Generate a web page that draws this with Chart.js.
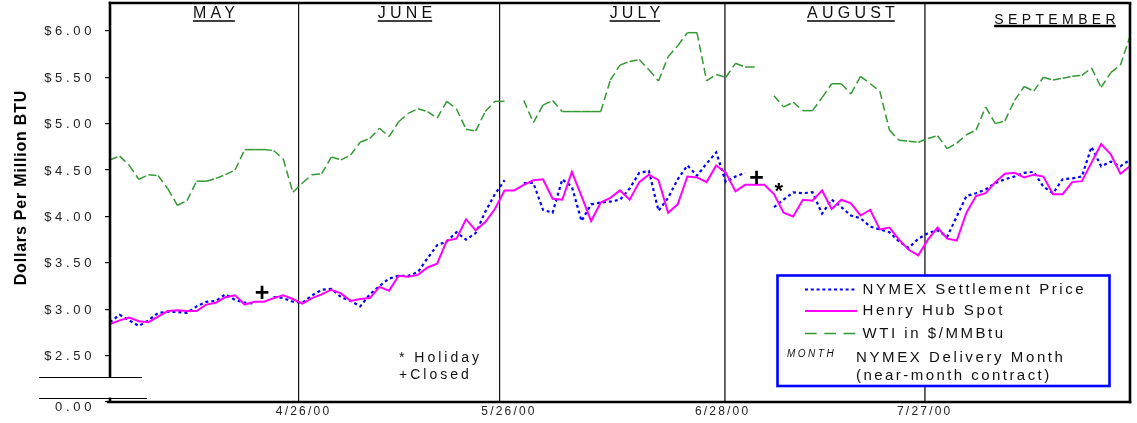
<!DOCTYPE html>
<html>
<head>
<meta charset="utf-8">
<script src="https://cdn.jsdelivr.net/npm/chart.js@4/dist/chart.umd.min.js"></script>
<style>
  html, body { margin: 0; padding: 0; background: #fff; }
  #wrap { position: relative; width: 1137px; height: 423px; }
  canvas { display: block; }
</style>
</head>
<body>
<div id="wrap"><canvas id="c" width="1137" height="423"></canvas></div>
<script>
// Weekday sequence 3/30/00 - 8/25/00 (index 0 .. 106)
const dayIndex = Array.from({ length: 107 }, (_, i) => i);

// Henry Hub spot price, $/MMBtu
const henryHubSpot = [
  2.84, 2.88, 2.91, 2.87, 2.86, 2.92, 2.98, 2.99, 2.98, 2.98,
  3.05, 3.07, 3.13, 3.15, 3.05, 3.08, 3.08, 3.12, 3.15, 3.11,
  3.06, 3.12, 3.16, 3.21, 3.17, 3.09, 3.11, 3.12, 3.24, 3.20,
  3.36, 3.35, 3.37, 3.45, 3.49, 3.74, 3.76, 3.97, 3.85, 3.94,
  4.08, 4.28, 4.28, 4.34, 4.39, 4.40, 4.19, 4.18, 4.48, 4.22,
  3.95, 4.15, 4.20, 4.28, 4.18, 4.37, 4.45, 4.39, 4.04, 4.13,
  4.43, 4.42, 4.37, 4.55, 4.47, 4.27, 4.34, 4.34, 4.34, 4.24,
  4.04, 4.00, 4.18, 4.17, 4.28, 4.08, 4.18, 4.14, 4.01, 4.07,
  3.86, 3.88, 3.75, 3.64, 3.58, 3.75, 3.88, 3.76, 3.74, 4.04,
  4.22, 4.25, 4.37, 4.46, 4.47, 4.42, 4.45, 4.43, 4.24, 4.24,
  4.37, 4.38, 4.58, 4.78, 4.67, 4.46, 4.54
];

// NYMEX near-month settlement price, $/MMBtu (null = exchange closed)
const nymexSettlement = [
  2.86, 2.94, 2.88, 2.82, 2.88, 2.96, 2.97, 2.97, 2.96, 3.03,
  3.08, 3.09, 3.16, 3.10, 3.07, 3.06, null, 3.13, 3.12, 3.08,
  3.07, 3.15, 3.21, 3.22, 3.13, 3.09, 3.03, 3.16, 3.25, 3.33,
  3.36, 3.36, 3.40, 3.55, 3.69, 3.73, 3.83, 3.75, 3.82, 4.05,
  4.24, 4.39, null, 4.36, 4.36, 4.07, 4.04, 4.40, 4.32, 3.95,
  4.13, 4.15, 4.16, 4.18, 4.30, 4.47, 4.49, 4.06, 4.20, 4.40,
  4.55, 4.44, 4.57, 4.69, 4.37, 4.43, 4.47, null, null, 4.10,
  4.18, 4.26, 4.25, 4.26, 4.03, 4.18, 4.10, 4.01, 3.98, 3.89,
  3.86, 3.83, 3.73, 3.66, 3.76, 3.82, 3.85, 3.78, 4.00, 4.22,
  4.25, 4.29, 4.36, 4.40, 4.43, 4.47, 4.48, 4.32, 4.25, 4.40,
  4.41, 4.43, 4.75, 4.54, 4.59, 4.54, 4.61
];

// West Texas Intermediate crude converted to $/MMBtu (null = holiday)
const wtiPerMMBtu = [
  4.61, 4.65, 4.55, 4.40, 4.45, 4.44, 4.30, 4.12, 4.17, 4.38,
  4.38, 4.41, 4.45, 4.50, 4.72, 4.72, 4.72, 4.71, 4.62, 4.26,
  4.36, 4.45, 4.46, 4.64, 4.61, 4.66, 4.80, 4.84, 4.95, 4.86,
  5.02, 5.11, 5.16, 5.13, 5.06, 5.24, 5.16, 4.94, 4.92, 5.13,
  5.24, 5.24, null, 5.25, 5.01, 5.20, 5.25, 5.13, 5.13, 5.13,
  5.13, 5.13, 5.47, 5.63, 5.67, 5.69, 5.58, 5.46, 5.72, 5.84,
  5.98, 5.98, 5.46, 5.53, 5.50, 5.65, 5.61, 5.61, null, 5.30,
  5.18, 5.23, 5.14, 5.14, 5.28, 5.43, 5.43, 5.32, 5.51, 5.43,
  5.35, 4.93, 4.82, 4.81, 4.80, 4.84, 4.87, 4.73, 4.79, 4.88,
  4.93, 5.18, 5.00, 5.03, 5.25, 5.40, 5.35, 5.50, 5.47, 5.49,
  5.51, 5.52, 5.60, 5.39, 5.55, 5.63, 5.94
];

// Contract expiration dates: divider position and date label position on the day axis
const expiryLabels = ['4/26/00', '5/26/00', '6/28/00', '7/27/00'];
const expiryAt = [19.55, 40.5, 63.85, 84.65];
const expiryLabelAt = [20.0, 41.35, 63.55, 84.55];

// Delivery-month headings
const deliveryMonths = ['MAY', 'JUNE', 'JULY', 'AUGUST', 'SEPTEMBER'];

// Price axis ticks; the lowest tick sits below the axis break and reads $0.00
const priceTicks = [2.0, 2.5, 3.0, 3.5, 4.0, 4.5, 5.0, 5.5, 6.0];
const priceTickLabels = ['0.00', '$2.50', '$3.00', '$3.50', '$4.00', '$4.50', '$5.00', '$5.50', '$6.00'];

// Event markers: [symbol, day, price]
const eventMarks = [['+', 15.8, 3.17], ['+', 67.2, 4.41], ['*', 69.5, 4.33]];

const FONT = '"Liberation Sans", Arial, Helvetica, sans-serif';

// ---- layout constants ----
const monthHeadAt = [10.8, 30.65, 54.55, 77.0, 98.2];
const monthHeadY = [14, 14, 14, 14, 20];
const breakHi = 2.272, breakLo = 2.048;

function spacedText(ctx, str, x, y, font, spacing, align, color) {
  ctx.save();
  ctx.font = font;
  ctx.fillStyle = color || '#000';
  ctx.textBaseline = 'middle';
  ctx.textAlign = 'left';
  ctx.letterSpacing = '0px';
  const w = ctx.measureText(str).width + spacing * (str.length - 1);
  let x0 = x;
  if (align === 'center') x0 = x - w / 2;
  else if (align === 'right') x0 = x - w;
  ctx.letterSpacing = spacing + 'px';
  ctx.fillText(str, x0, y);
  ctx.restore();
  return { x0, w };
}

function seg(ctx, x1, y1, x2, y2) {
  ctx.beginPath(); ctx.moveTo(x1, y1); ctx.lineTo(x2, y2); ctx.stroke();
}

const chartDecor = {
  id: 'chartDecor',
  afterDraw(chart) {
    const ctx = chart.ctx;
    const { left, right, top, bottom } = chart.chartArea;
    const xs = chart.scales.x, ys = chart.scales.y;
    const ds = chart.data.datasets;

    // plot frame with the broken price axis
    ctx.save();
    ctx.strokeStyle = '#000';
    ctx.lineWidth = 2.6;
    const yb1 = ys.getPixelForValue(breakHi), yb2 = ys.getPixelForValue(breakLo);
    seg(ctx, left - 1.3, top, right + 1.3, top);
    seg(ctx, right, top, right, bottom + 1.3);
    seg(ctx, left - 3, bottom, right + 1.3, bottom);
    seg(ctx, left, top - 1.3, left, yb1 + 1);
    seg(ctx, left, yb2, left, bottom);
    ctx.lineWidth = 1.2;
    seg(ctx, 39, Math.round(yb1) + 0.5, 142, Math.round(yb1) + 0.5);
    seg(ctx, 39, Math.round(yb2) + 0.5, 147, Math.round(yb2) + 0.5);
    ctx.restore();

    // price tick labels (the one under the break sits a little lower)
    priceTicks.forEach((v, i) => {
      const dy = i === 0 ? 5.5 : 1;
      spacedText(ctx, priceTickLabels[i], 91.5, ys.getPixelForValue(v) + dy, '13px ' + FONT, 3.7, 'right', '#222');
    });

    // expiration date labels
    expiryAt.forEach((v, i) => {
      spacedText(ctx, expiryLabels[i], xs.getPixelForValue(expiryLabelAt[i]), 412, '12px ' + FONT, 2.2, 'center', '#222');
    });

    // axis title
    ctx.save();
    ctx.translate(21.5, 188);
    ctx.rotate(-Math.PI / 2);
    spacedText(ctx, 'Dollars Per Million BTU', 0, 0, 'bold 16px ' + FONT, 0.8, 'center', '#000');
    ctx.restore();

    // delivery month headings, underlined
    deliveryMonths.forEach((m, i) => {
      const last = i === deliveryMonths.length - 1;
      const size = last ? 14 : 16;
      const sp = last ? 4.4 : 4.2;
      const cx = xs.getPixelForValue(monthHeadAt[i]);
      const r = spacedText(ctx, m, cx, monthHeadY[i], size + 'px ' + FONT, sp, 'center', '#111');
      ctx.save();
      ctx.strokeStyle = '#000';
      ctx.lineWidth = last ? 2.4 : 1.6;
      seg(ctx, r.x0, monthHeadY[i] + (last ? 6 : 7), r.x0 + r.w, monthHeadY[i] + (last ? 6 : 7));
      ctx.restore();
    });

    // event markers
    eventMarks.forEach(([s, d, p]) => {
      const font = s === '+' ? 'bold 25px ' + FONT : 'bold 22px ' + FONT;
      const dy = s === '*' ? 6 : 1;
      spacedText(ctx, s, xs.getPixelForValue(d), ys.getPixelForValue(p) + dy, font, 0, 'center', '#000');
    });

    // notes
    spacedText(ctx, '* Holiday', 399, 358, '14px ' + FONT, 3, 'left', '#111');
    spacedText(ctx, '+Closed', 399, 375, '14px ' + FONT, 3, 'left', '#111');

    // legend box
    ctx.save();
    ctx.fillStyle = '#fff';
    ctx.fillRect(777, 275, 333, 111);
    ctx.strokeStyle = '#0000ff';
    ctx.lineWidth = 2.6;
    ctx.strokeRect(777.5, 275.5, 332, 110.5);
    ctx.restore();

    const sample = (d, y, dash) => {
      ctx.save();
      ctx.strokeStyle = d.borderColor;
      ctx.lineWidth = d.borderWidth;
      ctx.setLineDash(dash);
      seg(ctx, 805, y, 857, y);
      ctx.restore();
    };
    const byLabel = l => ds.find(d => d.label === l);
    const lf = '15px ' + FONT;
    sample(byLabel('NYMEX Settlement Price'), 289.5, [3, 2.8]);
    spacedText(ctx, 'NYMEX Settlement Price', 862.5, 289.5, lf, 2.55, 'left', '#111');
    sample(byLabel('Henry Hub Spot'), 311, []);
    spacedText(ctx, 'Henry Hub Spot', 862.5, 311, lf, 2.55, 'left', '#111');
    sample(byLabel('WTI in $/MMBtu'), 333.5, [11.7, 7.6]);
    spacedText(ctx, 'WTI in $/MMBtu', 862.5, 334, lf, 2.55, 'left', '#111');
    spacedText(ctx, 'MONTH', 787, 354, 'italic 10px ' + FONT, 2.5, 'left', '#111');
    spacedText(ctx, 'NYMEX Delivery Month', 856, 357.5, lf, 2.6, 'left', '#111');
    spacedText(ctx, '(near-month contract)', 856, 375.5, lf, 2.45, 'left', '#111');
  }
};

new Chart(document.getElementById('c'), {
  type: 'line',
  data: {
    labels: dayIndex,
    datasets: [
      {
        label: 'Henry Hub Spot', data: henryHubSpot,
        borderColor: '#ff00ff', borderWidth: 2, order: 0
      },
      {
        label: 'NYMEX Settlement Price', data: nymexSettlement,
        borderColor: '#0000ff', borderWidth: 2.2, borderDash: [3, 3], order: 1
      },
      {
        label: 'WTI in $/MMBtu', data: wtiPerMMBtu,
        borderColor: '#339933', borderWidth: 1.5, order: 2,
        segment: {
          // dash restarts on every leg; level legs are drawn solid
          borderDash: c => (c.p0.parsed.y === c.p1.parsed.y ? [] : [8, 4]),
          borderDashOffset: c => (c.p0DataIndex % 2 ? 12 : 0)
        }
      }
    ]
  },
  options: {
    responsive: false,
    animation: false,
    devicePixelRatio: 1,
    layout: { padding: { left: 0, right: 7, top: 3, bottom: 0 } },
    elements: {
      point: { radius: 0, hoverRadius: 0 },
      line: { tension: 0, fill: false, borderCapStyle: 'butt', borderJoinStyle: 'miter' }
    },
    spanGaps: false,
    plugins: { legend: { display: false }, tooltip: { enabled: false } },
    scales: {
      x: {
        type: 'linear', min: 0, max: 106,
        afterFit: s => { s.height = 21; },
        afterBuildTicks: s => { s.ticks = expiryAt.map(v => ({ value: v })); },
        ticks: { display: false },
        grid: {
          drawTicks: false,
          color: c => (c.index < 2 ? '#111' : '#555'),
          lineWidth: c => (c.index < 2 ? 1.2 : 1.8)
        },
        border: { display: false }
      },
      y: {
        type: 'linear', min: 2, max: 6.3,
        afterFit: s => { s.width = 110; },
        afterBuildTicks: s => { s.ticks = priceTicks.map(v => ({ value: v })); },
        ticks: { display: false },
        grid: { drawOnChartArea: false, drawTicks: true, tickLength: 5, color: '#000', lineWidth: 1.2 },
        border: { display: false }
      }
    }
  },
  plugins: [chartDecor]
});
</script>
</body>
</html>
